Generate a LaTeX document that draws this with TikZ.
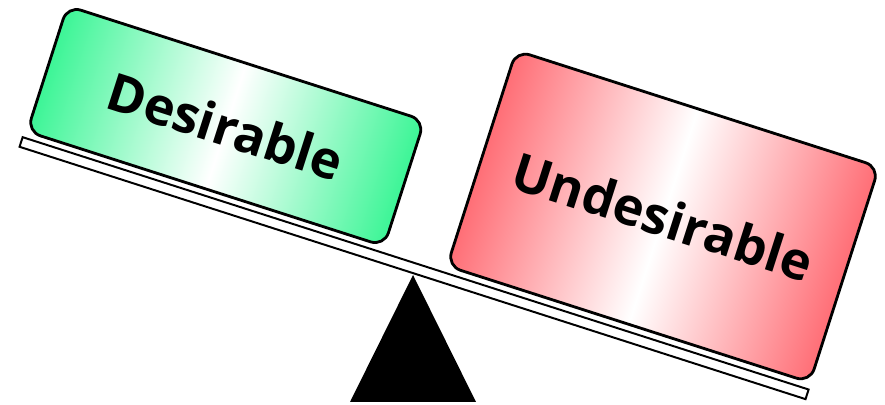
\documentclass[tikz,border=0pt]{standalone}
\usepackage{fontspec}
\setmainfont{Open Sans}
\definecolor{mint}{RGB}{60,245,150}
\definecolor{salmon}{RGB}{255,110,118}

\begin{document}
\begin{tikzpicture}[x=0.025cm,y=0.025cm,
  card/.style={draw=black,line width=2pt,rounded corners=10pt},
  word/.style={font=\bfseries\fontsize{37}{40}\selectfont}]
\useasboundingbox (0,0) rectangle (885,405);
% pivot
\fill (413,130) -- (350,3) -- (476,3) -- cycle;
% beam and the two weights, in the tilted frame
\begin{scope}[transform canvas={shift={(0,405)},rotate=-17.8}]
\draw[line width=1.4pt,fill=white] (63.5,-133.8) rectangle (889,-123.7);
\shade[card,left color=mint,right color=mint,middle color=white] (66,-117) rectangle (441,15);
\shade[card,left color=salmon,right color=salmon,middle color=white] (507,-116.6) rectangle (888,109.7);
\node[word] (good) at (253.5,-51) {Desirable};
\node[word] (bad) at (697.5,-3.5) {Undesirable};
\end{scope}
\end{tikzpicture}
\end{document}
